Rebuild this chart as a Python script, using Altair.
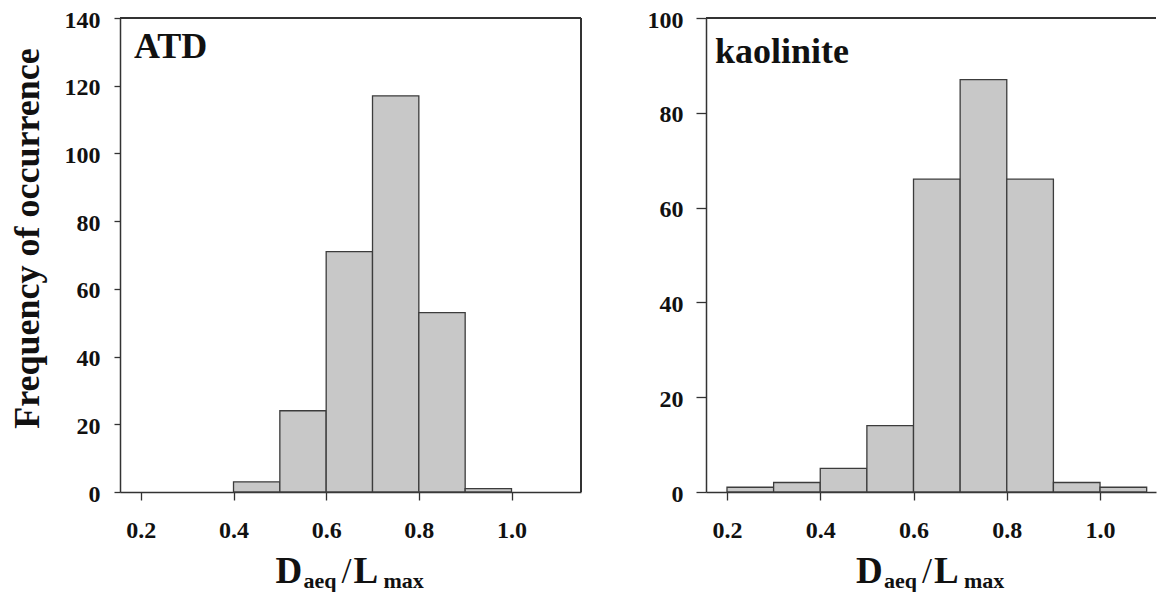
import altair as alt
import pandas as pd

# ---- data ----
atd_bin_start = [0.4, 0.5, 0.6, 0.7, 0.8, 0.9]
atd_bin_end = [0.5, 0.6, 0.7, 0.8, 0.9, 1.0]
atd_counts = [3, 24, 71, 117, 53, 1]

kao_bin_start = [0.2, 0.3, 0.4, 0.5, 0.6, 0.7, 0.8, 0.9, 1.0]
kao_bin_end = [0.3, 0.4, 0.5, 0.6, 0.7, 0.8, 0.9, 1.0, 1.1]
kao_counts = [1, 2, 5, 14, 66, 87, 66, 2, 1]

x_ticks = [0.2, 0.4, 0.6, 0.8, 1.0]
atd_y_ticks = [0, 20, 40, 60, 80, 100, 120, 140]
kao_y_ticks = [0, 20, 40, 60, 80, 100]

FONT = "Liberation Serif"
INK = "#333333"
H = 474


def panel(starts, ends, counts, width, xdomain, ydomain, yticks, ytitle,
          label, label_x, label_y, ytick_len, ylabel_pad, right_border):
    df = pd.DataFrame({"start": starts, "end": ends, "count": counts})
    yaxis_kw = dict(values=yticks, format="d", tickSize=ytick_len,
                    labelPadding=ylabel_pad, labelFont=FONT, labelFontSize=24,
                    labelFontWeight="bold", labelColor="#111", labelOffset=2,
                    domainColor=INK, domainWidth=1.5, tickColor=INK,
                    tickWidth=1.3, grid=False, labelOverlap=False)
    if ytitle:
        yaxis_kw.update(titleFont=FONT, titleFontSize=36, titleFontWeight="bold",
                        titleColor="#111", titleX=-74, titleY=220)
    yaxis = alt.Axis(**yaxis_kw)
    xaxis = alt.Axis(values=x_ticks, format=".1f", tickSize=8, labelPadding=18,
                     labelFont=FONT, labelFontSize=24, labelFontWeight="bold",
                     labelColor="#111", domainColor=INK, domainWidth=1.5,
                     tickColor=INK, tickWidth=1.3, grid=False, labelFlush=False)
    bars = alt.Chart(df).mark_rect(fill="#c8c8c8", stroke="#3c3c3c",
                                   strokeWidth=1.3).encode(
        x=alt.X("start:Q", scale=alt.Scale(domain=xdomain, nice=False, zero=False),
                axis=xaxis, title=None),
        x2="end:Q",
        y=alt.Y("count:Q", scale=alt.Scale(domain=ydomain, nice=False),
                axis=yaxis, title=ytitle),
    )
    layers = [bars]
    # frame: top line (and right line for the left panel)
    layers.append(alt.Chart(df).mark_rule(color=INK, strokeWidth=1.5).encode(
        x=alt.value(0), x2=alt.value(width), y=alt.value(0)))
    if right_border:
        layers.append(alt.Chart(df).mark_rule(color=INK, strokeWidth=1.5).encode(
            x=alt.value(width), y=alt.value(0), y2=alt.value(H)))
    # panel label
    layers.append(alt.Chart(pd.DataFrame({"t": [label]})).mark_text(
        align="left", baseline="alphabetic", font=FONT, fontSize=36,
        fontWeight="bold", color="#111").encode(
        text="t:N", x=alt.value(label_x), y=alt.value(label_y)))
    # x title  D_aeq / L_max
    x0 = width / 2 - 75
    pieces = [("D", 0, 37, "bold", 91), ("aeq", 28, 22, "bold", 96),
              ("/", 66, 36, "normal", 91), ("L", 78, 37, "bold", 91),
              ("max", 108, 22, "bold", 96)]
    for txt, off, size, weight, dy in pieces:
        layers.append(alt.Chart(pd.DataFrame({"t": [txt]})).mark_text(
            align="left", baseline="alphabetic", font=FONT, fontSize=size,
            fontWeight=weight, color="#111").encode(
            text="t:N", x=alt.value(x0 + off), y=alt.value(H + dy)))
    return alt.layer(*layers).properties(
        width=width, height=H, view=alt.ViewBackground(stroke=None))


left = panel(atd_bin_start, atd_bin_end, atd_counts, 461, [0.155, 1.15],
             [0, 140], atd_y_ticks, "Frequency of occurrence", "ATD", 14, 40,
             6, 14, True)
right = panel(kao_bin_start, kao_bin_end, kao_counts, 450, [0.155, 1.12],
              [0, 100], kao_y_ticks, None, "kaolinite", 9, 45, 10, 13, False)

chart = alt.hconcat(left, right, spacing=65).properties(
    padding={"left": 0, "top": 0, "right": 0, "bottom": 0},
    background="white")

chart.save("out.html", embed_options={"renderer": "svg", "actions": False})
